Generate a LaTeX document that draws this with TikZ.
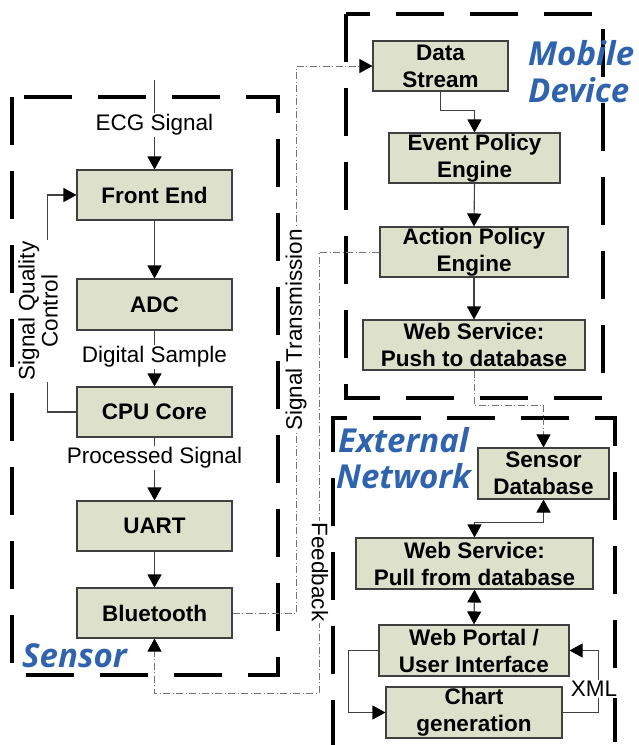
\documentclass[tikz,border=0pt]{standalone}
\usepackage{fontspec}
\setmainfont{Liberation Sans}
\newfontfamily\labfont{Open Sans}
\usetikzlibrary{arrows.meta,calc}
\definecolor{boxfill}{HTML}{DDE1CB}
\definecolor{boxline}{HTML}{404040}
\definecolor{labblue}{HTML}{2F63AE}
\begin{document}
\begin{tikzpicture}[x=1pt,y=-1pt,
  blk/.style={draw=boxline,fill=boxfill,line width=1.1pt,inner sep=0pt,align=center,
    font=\fontsize{22.5}{27}\selectfont\bfseries,minimum height=50pt},
  conn/.style={draw=black!75,line width=1.1pt},
  tip/.style={-{Triangle[length=13pt,width=14pt,color=black]}},
  dtip/.style={{Triangle[length=13pt,width=14pt,color=black]}-{Triangle[length=13pt,width=14pt,color=black]}},
  dd/.style={draw=black!55,line width=0.9pt,dash pattern=on 7pt off 2.5pt on 1pt off 2.5pt},
  grp/.style={draw=black,line width=3.2pt,dash pattern=on 48pt off 26pt},
  lbl/.style={fill=white,inner sep=1.5pt,font=\fontsize{22.5}{27}\selectfont},
  big/.style={text=labblue,font=\labfont\fontsize{33}{38}\selectfont\bfseries\itshape,inner sep=0pt}]
\useasboundingbox (0,0) rectangle (638,745);

% group boxes
\draw[grp] (12,97) rectangle (278,675);
\draw[grp] (346,14) rectangle (603,398);
\draw[grp] (333,748) -- (333,418) -- (615,418) -- (615,748);

% sensor nodes
\node[blk,minimum width=155pt] (fe) at (154.5,195) {Front End};
\node[blk,minimum width=155pt,minimum height=51pt] (adc) at (154.5,304.5) {ADC};
\node[blk,minimum width=155pt] (cpu) at (154.5,412) {CPU Core};
\node[blk,minimum width=155pt] (uart) at (154.5,526) {UART};
\node[blk,minimum width=155pt] (bt) at (154.5,613) {Bluetooth};

% mobile nodes
\node[blk,minimum width=135pt] (ds) at (440.5,66) {Data\\Stream};
\node[blk,minimum width=171pt] (ev) at (474.5,158) {Event Policy\\Engine};
\node[blk,minimum width=188pt] (ap) at (474,252) {Action Policy\\Engine};
\node[blk,minimum width=222pt] (wp) at (474,345) {Web Service:\\Push to database};

% external nodes
\node[blk,minimum width=131pt,minimum height=51pt] (sdb) at (543.5,473.5) {Sensor\\Database};
\node[blk,minimum width=237pt,minimum height=51pt] (pull) at (474.5,563.5) {Web Service:\\Pull from database};
\node[blk,minimum width=190pt,minimum height=51pt] (portal) at (474,650.5) {Web Portal /\\User Interface};
\node[blk,minimum width=176pt,minimum height=51pt] (chart) at (474,712.5) {Chart\\generation};

% sensor connectors
\coordinate (ecg) at (154.5,80);
\draw[conn,tip] (ecg) -- (fe.north);
\node[lbl] (ecgl) at (154.5,125) {ECG Signal};
\draw[conn,tip] (fe.south) -- (adc.north);
\draw[conn,tip] (adc.south) -- (cpu.north);
\node[lbl] (dsl) at (154.5,357) {Digital Sample};
\draw[conn,tip] (cpu.south) -- (uart.north);
\node[lbl] (psl) at (154.5,458) {Processed Signal};
\draw[conn,tip] (uart.south) -- (bt.north);
\draw[conn,tip] (cpu.west) -- ++(-29,0) |- (fe.west);
\node[lbl,rotate=90,align=center,font=\fontsize{22.5}{23}\selectfont] (sqc) at (38,311) {Signal Quality\\Control};

% transmission and feedback
\draw[dd,tip] (bt.east) -- ++(64,0) |- (ds.west);
\node[lbl,rotate=90] (stl) at (296,330) {Signal Transmission};
\coordinate (fb) at (319,693);
\draw[dd,tip] (ap.west) -| (fb) -| (bt.south);
\node[lbl,rotate=-90] (fbl) at (320,572) {Feedback};

% mobile connectors
\draw[conn,tip] (ds.south) -- ++(0,19) -| (ev.north);
\draw[conn,tip] (ev.south) -- (ap.north);
\draw[conn,tip] (ap.south) -- (wp.north);
\coordinate (me) at (543.5,405);
\draw[dd,tip] (wp.south) |- (me) -- (sdb.north);

% external connectors
\draw[conn,dtip] (sdb.south) -- ++(0,23) -| (pull.north);
\draw[conn,dtip] (pull.south) -- (portal.north);
\draw[conn,tip] (portal.west) -- ++(-30,0) |- (chart.west);
\draw[conn,tip] (chart.east) -- ++(36,0) |- (portal.east);
\node[lbl] (xml) at (594,689) {XML};

% group labels
\node[big,anchor=base west] (lsen) at (22,667) {Sensor};
\node[big,anchor=base west] (lmob) at (528,65) {Mobile};
\node[big,anchor=base west] (ldev) at (528,102) {Device};
\node[big,anchor=base west] (lext) at (338,452) {External};
\node[big,anchor=base west] (lnet) at (336,488) {Network};
\end{tikzpicture}
\end{document}
